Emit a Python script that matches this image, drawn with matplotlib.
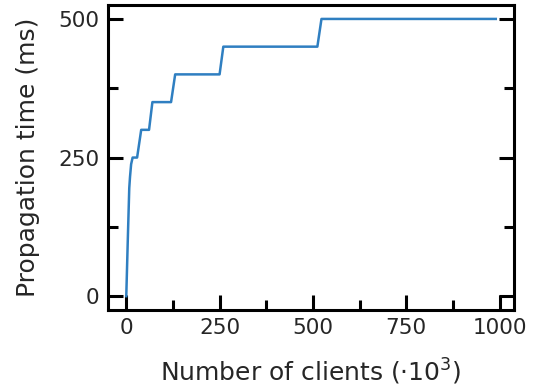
import matplotlib
matplotlib.use("Agg")
import matplotlib.pyplot as plt
from matplotlib.ticker import MultipleLocator

# Number of clients (thousands) and measured propagation time (ms)
clients_k = [0, 4, 8, 10, 13, 17, 29, 40, 61, 70, 120, 131, 250, 260, 512, 523, 990]
prop_ms = [0, 100, 195, 215, 238, 250, 250, 300, 300, 350, 350, 400, 400, 450, 450, 500, 500]

x_ticks = [0, 250, 500, 750, 1000]
y_ticks = [0, 250, 500]

fig = plt.figure(figsize=(5.5, 3.9), dpi=100)
ax = fig.add_axes([0.196, 0.205, 0.739, 0.782])

ax.plot(clients_k, prop_ms, color="#2f7fc1", linewidth=1.8)

ax.set_xticks(x_ticks)
ax.set_yticks(y_ticks)
ax.xaxis.set_minor_locator(MultipleLocator(125))
ax.yaxis.set_minor_locator(MultipleLocator(125))

text_color = "#262626"
ax.tick_params(which="both", direction="in", right=True, top=False,
               width=2.2, color="black", labelsize=15.5, labelcolor=text_color, pad=6)
ax.tick_params(which="major", length=11)
ax.tick_params(which="minor", length=7)

for sp in ax.spines.values():
    sp.set_linewidth(2.2)
    sp.set_color("black")

ax.set_xlabel(r"Number of clients ($\cdot10^3$)", fontsize=18, color=text_color, labelpad=13)
ax.set_ylabel("Propagation time (ms)", fontsize=18, color=text_color, labelpad=13)

fig.savefig("out.png", dpi=100)
